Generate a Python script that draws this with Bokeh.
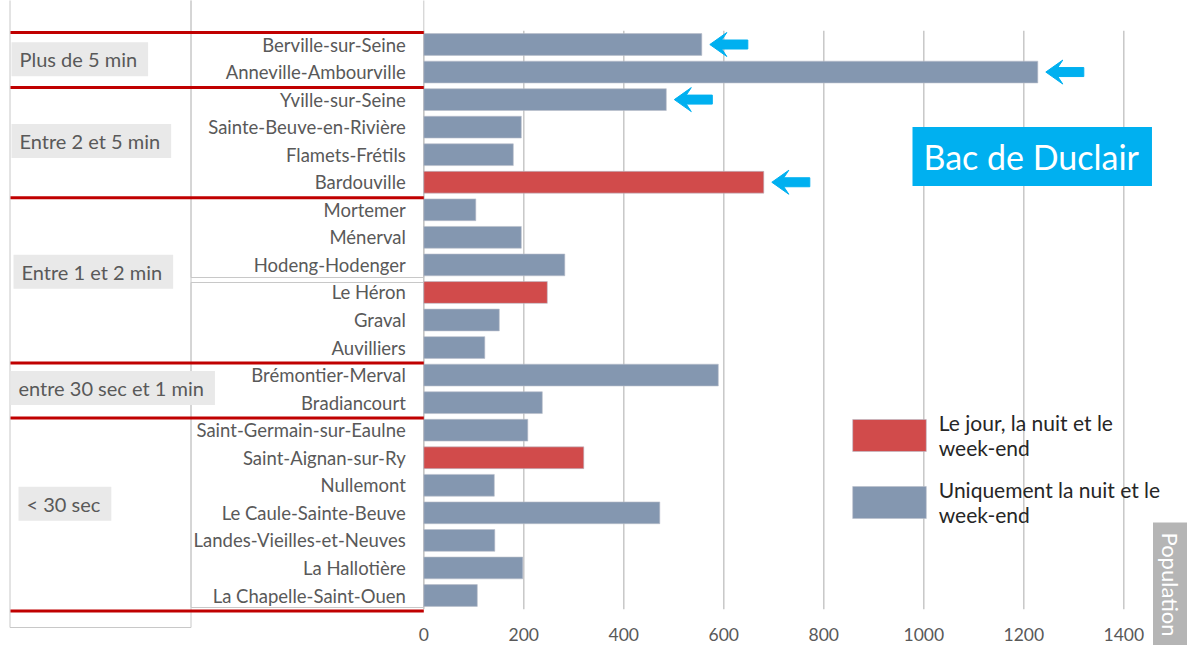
import math
from bokeh.plotting import figure
from bokeh.models import (Range1d, LinearAxis, FixedTicker, ColumnDataSource,
                          Label, Legend, LegendItem)
from bokeh.embed import file_html
from bokeh.resources import INLINE

# ---------------- data ----------------
communes = ["Berville-sur-Seine", "Anneville-Ambourville", "Yville-sur-Seine",
            "Sainte-Beuve-en-Rivière", "Flamets-Frétils", "Bardouville",
            "Mortemer", "Ménerval", "Hodeng-Hodenger", "Le Héron", "Graval",
            "Auvilliers", "Brémontier-Merval", "Bradiancourt",
            "Saint-Germain-sur-Eaulne", "Saint-Aignan-sur-Ry", "Nullemont",
            "Le Caule-Sainte-Beuve", "Landes-Vieilles-et-Neuves",
            "La Hallotière", "La Chapelle-Saint-Ouen"]
population = [556, 1228, 485, 195, 179, 680, 104, 195, 282, 247, 151, 122,
              589, 237, 208, 320, 141, 472, 142, 198, 107]
service = ["nuit", "nuit", "nuit", "nuit", "nuit", "jour", "nuit", "nuit",
           "nuit", "jour", "nuit", "nuit", "nuit", "nuit", "nuit", "jour",
           "nuit", "nuit", "nuit", "nuit", "nuit"]
highlighted = ["Berville-sur-Seine", "Anneville-Ambourville",
               "Yville-sur-Seine", "Bardouville"]
group_labels = ["Plus de 5 min", "Entre 2 et 5 min", "Entre 1 et 2 min",
                "entre 30 sec et 1 min", "< 30 sec"]
group_sizes = [2, 4, 6, 2, 7]
x_ticks = [0, 200, 400, 600, 800, 1000, 1200, 1400]
legend_labels = {"jour": "Le jour, la nuit et le\nweek-end",
                 "nuit": "Uniquement la nuit et le\nweek-end"}
title_text = "Bac de Duclair"
axis_title = "Population"

# ---------------- layout / style ----------------
W, H = 1187, 645
PX0 = 423.3      # canvas x of value 0
PXU = 0.5        # px per unit
ROW0 = 44.0      # canvas y of first row centre
ROWH = 27.55     # px per row
FONT = "Lato"
GREY_TXT = "#595959"
BLUE = "#8497B0"
RED = "#D14B4B"
CYAN = "#00B0F0"
LINE_RED = "#C00000"


def X(px):
    return (px - PX0) / PXU


def Y(py):
    return (py - ROW0) / ROWH


p = figure(width=W, height=H, output_backend="svg", toolbar_location=None,
           x_range=Range1d(X(0), X(W)), y_range=Range1d(Y(H), Y(0)),
           x_axis_location=None, y_axis_location=None, min_border=0)
p.outline_line_color = None
p.grid.visible = False
p.background_fill_color = "white"

n = len(communes)
rows = list(range(n))

# decorative frames on the left
p.quad(left=[X(9.5), X(190.5), X(190.5)], right=[X(190.5), 0, 0],
       top=[Y(-5), Y(-5), Y(282)], bottom=[Y(627), Y(277), Y(607)],
       fill_color=None, line_color="#C8C8C8", line_width=1)

# grid lines
p.segment(x0=x_ticks, x1=x_ticks, y0=[-0.5] * len(x_ticks),
          y1=[n - 0.5] * len(x_ticks), line_color="#C4C4C4", line_width=1.4)

# bars
renderers = {}
for kind, color in (("jour", RED), ("nuit", BLUE)):
    idx = [i for i in rows if service[i] == kind]
    src = ColumnDataSource(dict(y=idx, v=[population[i] for i in idx],
                                name=[communes[i] for i in idx]))
    renderers[kind] = p.hbar(y="y", left=0, right="v", height=0.79,
                             source=src, fill_color=color,
                             line_color="#B8BECA", line_width=0.6)

# group separators
bounds = [0]
for s in group_sizes:
    bounds.append(bounds[-1] + s)
sep_y = [b - 0.5 + 0.06 for b in bounds]
p.segment(x0=[X(10)] * len(sep_y), x1=[0] * len(sep_y), y0=sep_y, y1=sep_y,
          line_color=LINE_RED, line_width=3)

# group labels (box left edge in px)
label_x_px = [11, 11, 13, 10, 18]
label_nudge_px = [1, 0, -7, -1, -9]
for k, lab in enumerate(group_labels):
    centre = (bounds[k] + bounds[k + 1] - 1) / 2
    p.add_layout(Label(x=X(label_x_px[k]), y=centre, y_offset=-label_nudge_px[k],
                       text=lab, text_align="left", text_baseline="middle",
                       text_font=FONT, text_font_size="20px",
                       text_color=GREY_TXT,
                       background_fill_color="#E9E9E9",
                       padding=(8, 11, 5, 5)))

# blue arrows
axs, ays = [], []
shape = [(0, 0), (17, -12), (12, -4.5), (38, -4.5), (38, 4.5), (12, 4.5), (17, 12)]
for name in highlighted:
    i = communes.index(name)
    tip = population[i] + 8 / PXU
    axs.append([tip + dx / PXU for dx, dy in shape])
    ays.append([i + dy / ROWH for dx, dy in shape])
p.patches(xs=axs, ys=ays, fill_color=CYAN, line_color=CYAN)

# axes
yaxis = LinearAxis(ticker=FixedTicker(ticks=rows),
                   major_label_overrides={i: c for i, c in enumerate(communes)},
                   fixed_location=0)
xaxis = LinearAxis(ticker=FixedTicker(ticks=x_ticks), fixed_location=Y(623))
for ax in (yaxis, xaxis):
    ax.axis_line_color = None
    ax.major_tick_line_color = None
    ax.minor_tick_line_color = None
    ax.major_tick_out = 0
    ax.major_tick_in = 0
    ax.minor_tick_out = 0
    ax.major_label_text_font = FONT
    ax.major_label_text_color = GREY_TXT
yaxis.major_label_text_font_size = "18.5px"
xaxis.major_label_text_font_size = "17.5px"
yaxis.major_label_standoff = 18
xaxis.major_label_standoff = 4
p.add_layout(yaxis, "left")
p.add_layout(xaxis, "below")

# title box
p.add_layout(Label(x=X(912), y=Y(156), text=title_text, text_align="left",
                   text_baseline="middle", text_font=FONT,
                   text_font_size="34px", text_color="white",
                   background_fill_color=CYAN, padding=(11, 13, 9, 9)))

# axis title
p.add_layout(Label(x=X(1170), y=Y(522), text=axis_title, angle=-math.pi / 2,
                   text_align="left", text_baseline="middle", text_font=FONT,
                   text_font_size="22px", text_color="white",
                   background_fill_color="#B5B5B5", padding=(10, 30, 4, 4)))

# legend
legend = Legend(items=[LegendItem(label=legend_labels["jour"], renderers=[renderers["jour"]]),
                       LegendItem(label=legend_labels["nuit"], renderers=[renderers["nuit"]])],
                location=(842.75, H - 527), glyph_width=92, glyph_height=40,
                label_text_font=FONT, label_text_font_size="21px",
                label_text_color="#262626", label_standoff=4, spacing=17,
                padding=0, margin=0, border_line_color=None,
                background_fill_alpha=0)
p.add_layout(legend)

open("out.html", "w").write(file_html(p, INLINE))
